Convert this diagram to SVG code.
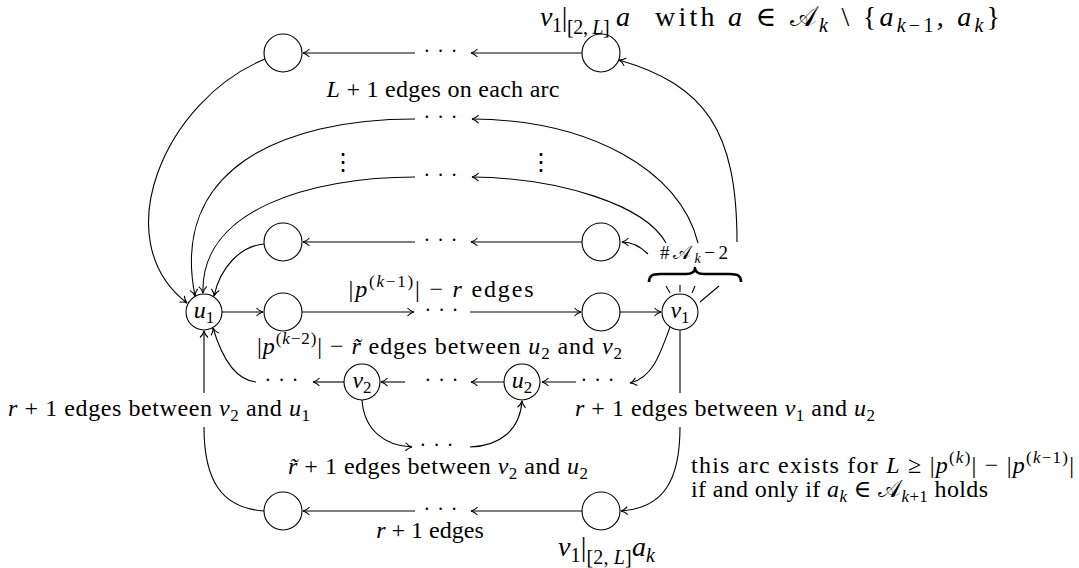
<svg xmlns="http://www.w3.org/2000/svg" width="1079" height="568" viewBox="0 0 1079 568">
<style>
.ln{fill:none;stroke:#000;stroke-width:1.1}
.ar{marker-end:url(#ah)}
.nd{fill:#fff;stroke:#000;stroke-width:1.1}
.br{fill:none;stroke:#000;stroke-width:2.6;stroke-linejoin:round}
.t{font-family:"Liberation Serif","DejaVu Serif",serif;font-size:24px;fill:#000}
.dt{font-family:"Liberation Serif","DejaVu Serif",serif;font-size:20px;letter-spacing:1px;fill:#000}
.big{font-size:28px}
.i{font-style:italic}
.sb{font-size:17px}
.sb2{font-size:20px}
.cal{font-family:"DejaVu Serif","DejaVu Sans","Noto Sans",serif;font-style:normal}
.vd{font-family:"DejaVu Serif","DejaVu Sans",serif;font-size:24px}
</style>
<defs>
<marker id="ah" viewBox="-8 -5 9 10" refX="0" refY="0" markerWidth="9" markerHeight="10" markerUnits="userSpaceOnUse" orient="auto">
<path d="M-6.5,-4 C-4.5,-1.8 -2,-0.5 0,0 C-2,0.5 -4.5,1.8 -6.5,4" fill="none" stroke="#000" stroke-width="1.1"/>
</marker>
</defs>
<rect width="1079" height="568" fill="#fff"/>

<g id="connectors">
<path class="ln ar" d="M582,53 L471,53"/>
<path class="ln ar" d="M415,53 L303,53"/>
<path class="ln ar" d="M582,242 L471,242"/>
<path class="ln ar" d="M415,242 L303,242"/>
<path class="ln ar" d="M582,511 L471,511"/>
<path class="ln ar" d="M415,511 L303,511"/>
<path class="ln ar" d="M222,312 L263,312"/>
<path class="ln ar" d="M302,312 L414,312"/>
<path class="ln ar" d="M470,312 L581,312"/>
<path class="ln ar" d="M620,312 L661,312"/>
<path class="ln ar" d="M576,382 L542,382"/>
<path class="ln ar" d="M504,382 L471,382"/>
<path class="ln ar" d="M405,382 L381,382"/>
<path class="ln ar" d="M344,382 L313,382"/>
<path class="ln ar" d="M256,382 C236,380 222,358 213,328"/>
<path class="ln ar" d="M362,400 C364,430 385,446 412,447"/>
<path class="ln ar" d="M470,447 C500,446 520,430 522,401"/>
<path class="ln ar" d="M670,327 C660,355 652,378 630,383"/>
<path class="ln" d="M264,511 C221,508 204,480 204,427"/>
<path class="ln ar" d="M204,393 L204,331"/>
<path class="ln" d="M680,330 L680,393"/>
<path class="ln ar" d="M680,427 C680,480 664,508 621,511"/>
<path class="ln ar" d="M737,242 C737,130 705,85 619,60"/>
<path class="ln ar" d="M698,243 C680,170 590,120 472,119"/>
<path class="ln ar" d="M666,243 C645,205 560,178 472,177"/>
<path class="ln ar" d="M648,254 C640,246 632,242 622,242"/>
<path class="ln ar" d="M265,59 C165,100 105,240 187,303"/>
<path class="ln ar" d="M415,119 C280,119 170,170 195,296"/>
<path class="ln ar" d="M415,177 C310,177 200,210 203,293"/>
<path class="ln ar" d="M264,244 C240,246 220,268 214,296"/>
<path class="ln" d="M666,286 L670,293"/>
<path class="ln" d="M680,285 L680,292"/>
<path class="ln" d="M695,286 L692,293"/>
<path class="ln" d="M719,286 L700,302"/>
<path class="br" d="M649,282 C649,276 652,274 660,274 L686,274 C692,274 695,272 695,268 C695,272 698,274 704,274 L730,274 C738,274 741,276 741,282"/>
</g>

<g id="node-top-left"><circle class="nd" cx="283" cy="53" r="19"/></g>
<g id="node-top-right"><circle class="nd" cx="601" cy="53" r="19"/></g>
<g id="node-row4-left"><circle class="nd" cx="283" cy="242" r="19"/></g>
<g id="node-row4-right"><circle class="nd" cx="601" cy="242" r="19"/></g>
<g id="node-u1"><circle class="nd" cx="204" cy="312" r="18"/><text class="t" x="204" y="318" text-anchor="middle"><tspan class="i">u</tspan><tspan class="sb" dy="5">1</tspan></text></g>
<g id="node-main-a"><circle class="nd" cx="283" cy="312" r="19"/></g>
<g id="node-main-b"><circle class="nd" cx="601" cy="312" r="19"/></g>
<g id="node-v1"><circle class="nd" cx="680" cy="312" r="18"/><text class="t" x="680" y="318" text-anchor="middle"><tspan class="i">v</tspan><tspan class="sb" dy="5">1</tspan></text></g>
<g id="node-v2"><circle class="nd" cx="362" cy="382" r="18"/><text class="t" x="362" y="388" text-anchor="middle"><tspan class="i">v</tspan><tspan class="sb" dy="5">2</tspan></text></g>
<g id="node-u2"><circle class="nd" cx="522" cy="382" r="18"/><text class="t" x="522" y="388" text-anchor="middle"><tspan class="i">u</tspan><tspan class="sb" dy="5">2</tspan></text></g>
<g id="node-bottom-left"><circle class="nd" cx="283" cy="511" r="19"/></g>
<g id="node-bottom-right"><circle class="nd" cx="601" cy="511" r="19"/></g>

<g id="dots">
<text class="dt" x="441" y="58" text-anchor="middle">· · ·</text>
<text class="dt" x="441" y="124" text-anchor="middle">· · ·</text>
<text class="dt" x="441" y="182" text-anchor="middle">· · ·</text>
<text class="dt" x="441" y="247" text-anchor="middle">· · ·</text>
<text class="dt" x="442" y="317" text-anchor="middle">· · ·</text>
<text class="dt" x="282" y="387" text-anchor="middle">· · ·</text>
<text class="dt" x="442" y="387" text-anchor="middle">· · ·</text>
<text class="dt" x="598" y="387" text-anchor="middle">· · ·</text>
<text class="dt" x="437" y="452" text-anchor="middle">· · ·</text>
<text class="dt" x="441" y="516" text-anchor="middle">· · ·</text>
<text class="vd" x="343" y="170" text-anchor="middle">⋮</text>
<text class="vd" x="541" y="170" text-anchor="middle">⋮</text>
</g>

<g id="labels">
<text class="t big" x="540" y="26" textLength="90"><tspan class="i">v</tspan><tspan class="sb2" dy="6">1</tspan><tspan dy="-6">|</tspan><tspan class="sb2" dy="8">[2, <tspan class="i">L</tspan>]</tspan><tspan dy="-8"> </tspan><tspan class="i">a</tspan></text>
<text class="t big" x="655" y="26" textLength="345">with <tspan class="i">a</tspan> ∈ <tspan class="cal">𝒜</tspan><tspan class="sb2 i" dy="6">k</tspan><tspan dy="-6"> \ {</tspan><tspan class="i">a</tspan><tspan class="sb2" dy="6"><tspan class="i">k</tspan>−1</tspan><tspan dy="-6">, </tspan><tspan class="i">a</tspan><tspan class="sb2 i" dy="6">k</tspan><tspan dy="-6">}</tspan></text>
<text class="t" x="443" y="97" text-anchor="middle" textLength="233"><tspan class="i">L</tspan> + 1 edges on each arc</text>
<text class="t" x="660" y="259" style="font-size:19px" textLength="68">#<tspan class="cal">𝒜</tspan><tspan class="i" style="font-size:14px" dy="4">k</tspan><tspan dy="-4">−2</tspan></text>
<text class="t" x="441" y="297" text-anchor="middle" textLength="185">|<tspan class="i">p</tspan><tspan class="sb" dy="-10">(<tspan class="i">k</tspan>−1)</tspan><tspan dy="10">| − </tspan><tspan class="i">r</tspan> edges</text>
<text class="t" x="257" y="354" textLength="365">|<tspan class="i">p</tspan><tspan class="sb" dy="-10">(<tspan class="i">k</tspan>−2)</tspan><tspan dy="10">| − </tspan><tspan class="i">r̃</tspan> edges between <tspan class="i">u</tspan><tspan class="sb" dy="5">2</tspan><tspan dy="-5"> and </tspan><tspan class="i">v</tspan><tspan class="sb" dy="5">2</tspan></text>
<text class="t" x="8" y="416" textLength="302"><tspan class="i">r</tspan> + 1 edges between <tspan class="i">v</tspan><tspan class="sb" dy="5">2</tspan><tspan dy="-5"> and </tspan><tspan class="i">u</tspan><tspan class="sb" dy="5">1</tspan></text>
<text class="t" x="575" y="416" textLength="300"><tspan class="i">r</tspan> + 1 edges between <tspan class="i">v</tspan><tspan class="sb" dy="5">1</tspan><tspan dy="-5"> and </tspan><tspan class="i">u</tspan><tspan class="sb" dy="5">2</tspan></text>
<text class="t" x="288" y="474" textLength="300"><tspan class="i">r̃</tspan> + 1 edges between <tspan class="i">v</tspan><tspan class="sb" dy="5">2</tspan><tspan dy="-5"> and </tspan><tspan class="i">u</tspan><tspan class="sb" dy="5">2</tspan></text>
<text class="t" x="691" y="473" textLength="383">this arc exists for <tspan class="i">L</tspan> ≥ |<tspan class="i">p</tspan><tspan class="sb" dy="-10">(<tspan class="i">k</tspan>)</tspan><tspan dy="10">| − |</tspan><tspan class="i">p</tspan><tspan class="sb" dy="-10">(<tspan class="i">k</tspan>−1)</tspan><tspan dy="10">|</tspan></text>
<text class="t" x="691" y="497" textLength="297">if and only if <tspan class="i">a</tspan><tspan class="sb i" dy="5">k</tspan><tspan dy="-5"> ∈ </tspan><tspan class="cal">𝒜</tspan><tspan class="sb" dy="5"><tspan class="i">k</tspan>+1</tspan><tspan dy="-5"> holds</tspan></text>
<text class="t" x="430" y="538" text-anchor="middle"><tspan class="i">r</tspan> + 1 edges</text>
<text class="t big" x="558" y="556" textLength="97"><tspan class="i">v</tspan><tspan class="sb2" dy="6">1</tspan><tspan dy="-6">|</tspan><tspan class="sb2" dy="8">[2, <tspan class="i">L</tspan>]</tspan><tspan class="i" dy="-8">a</tspan><tspan class="sb2 i" dy="6">k</tspan></text>
</g>
</svg>
